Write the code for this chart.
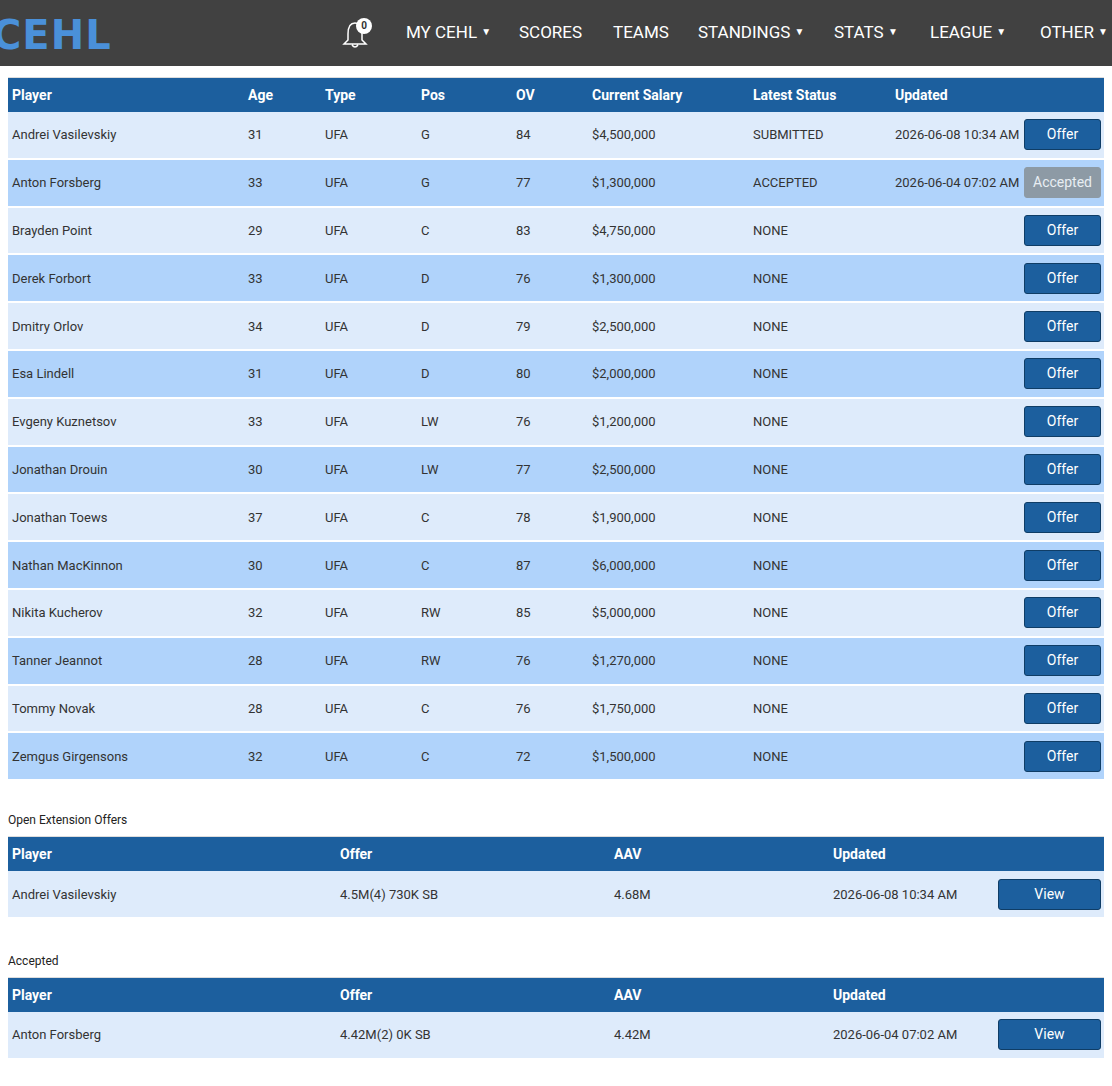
<!DOCTYPE html>
<html>
<head>
<meta charset="utf-8">
<script src="https://cdn.jsdelivr.net/npm/chart.js"></script>
<style>
body { margin:0; font-family: Roboto, sans-serif; background:#fff; color:#333; width:1112px; overflow:hidden; }
.nav { height:66px; background:#414141; position:relative; color:#fff; margin-bottom:11px; }
.logo { position:absolute; left:-8px; top:12px; font-family:"DejaVu Sans"; font-weight:bold; font-size:40px; color:#4a90d9; letter-spacing:1px; }
.menu { position:absolute; top:22px; left:406px; font-size:17px; white-space:nowrap; }
.menu span { position:absolute; }
.menu small { font-size:10px; vertical-align:3px; }
.bell { position:absolute; left:342px; top:20px; }
.badge { position:absolute; left:356px; top:18px; width:16px; height:16px; border-radius:8px; background:#fff; color:#333; font-size:10px; font-weight:bold; text-align:center; line-height:16px; }
table { border-collapse:collapse; table-layout:fixed; margin-left:8px; width:1096px; font-size:13px; }
th { background:#1c5f9e; color:#fff; text-align:left; height:34px; padding:0 0 0 4px; font-size:14px; border-top:1px solid #ddd; }
td { height:45.8px; padding:0 0 0 4px; border-bottom:2px solid #fff; }
tr.a td { background:#deebfb; }
tr.b td { background:#b0d3fb; }
td.btn { text-align:right; padding-right:3px; }
.b1 { display:inline-block; background:#1c5f9e; color:#fff; border:1px solid #0f3d66; border-radius:3px; width:77px; height:31px; line-height:29px; text-align:center; font-size:14px; box-sizing:border-box; }
.b1.acc { background:#8d9aa5; border-color:#8d9aa5; color:#e8eef3; }
.b1.v { width:103px; }
.lbl { font-size:12px; margin:32px 0 9px 8px; color:#222; }
</style>
</head>
<body>
<div class="nav">
  <div class="logo">CEHL</div>
  <svg class="bell" width="26" height="28" viewBox="0 0 26 28"><path d="M13 3 C7 3 6 9 6 14 L6 20 L2 24 L24 24 L20 20 L20 14 C20 9 19 3 13 3 Z M10 25 Q13 29 16 25" fill="none" stroke="#fff" stroke-width="1.5"/></svg>
  <div class="badge">0</div>
  <div class="menu" id="menu"></div>
</div>
<table id="t1"></table>
<div class="lbl">Open Extension Offers</div>
<table id="t2"></table>
<div class="lbl" style="margin-top:35px">Accepted</div>
<table id="t3"></table>
<script>
const menuItems = ['MY CEHL', 'SCORES', 'TEAMS', 'STANDINGS', 'STATS', 'LEAGUE', 'OTHER'];
const menuCaret = [true, false, false, true, true, true, true];
const menuX = [0, 113, 207, 292, 428, 524, 634];

const cols1 = ['Player', 'Age', 'Type', 'Pos', 'OV', 'Current Salary', 'Latest Status', 'Updated', ''];
const widths1 = [236, 77, 96, 95, 76, 161, 142, 129, 84];
const players = ['Andrei Vasilevskiy', 'Anton Forsberg', 'Brayden Point', 'Derek Forbort', 'Dmitry Orlov', 'Esa Lindell', 'Evgeny Kuznetsov', 'Jonathan Drouin', 'Jonathan Toews', 'Nathan MacKinnon', 'Nikita Kucherov', 'Tanner Jeannot', 'Tommy Novak', 'Zemgus Girgensons'];
const ages = [31, 33, 29, 33, 34, 31, 33, 30, 37, 30, 32, 28, 28, 32];
const types = ['UFA', 'UFA', 'UFA', 'UFA', 'UFA', 'UFA', 'UFA', 'UFA', 'UFA', 'UFA', 'UFA', 'UFA', 'UFA', 'UFA'];
const positions = ['G', 'G', 'C', 'D', 'D', 'D', 'LW', 'LW', 'C', 'C', 'RW', 'RW', 'C', 'C'];
const overalls = [84, 77, 83, 76, 79, 80, 76, 77, 78, 87, 85, 76, 76, 72];
const salaries = ['$4,500,000', '$1,300,000', '$4,750,000', '$1,300,000', '$2,500,000', '$2,000,000', '$1,200,000', '$2,500,000', '$1,900,000', '$6,000,000', '$5,000,000', '$1,270,000', '$1,750,000', '$1,500,000'];
const statuses = ['SUBMITTED', 'ACCEPTED', 'NONE', 'NONE', 'NONE', 'NONE', 'NONE', 'NONE', 'NONE', 'NONE', 'NONE', 'NONE', 'NONE', 'NONE'];
const updated = ['2026-06-08 10:34 AM', '2026-06-04 07:02 AM', '', '', '', '', '', '', '', '', '', '', '', ''];

const cols2 = ['Player', 'Offer', 'AAV', 'Updated', ''];
const widths2 = [328, 274, 219, 161, 114];
const extPlayers = ['Andrei Vasilevskiy'];
const extOffers = ['4.5M(4) 730K SB'];
const extAav = ['4.68M'];
const extUpdated = ['2026-06-08 10:34 AM'];

const accPlayers = ['Anton Forsberg'];
const accOffers = ['4.42M(2) 0K SB'];
const accAav = ['4.42M'];
const accUpdated = ['2026-06-04 07:02 AM'];

document.getElementById('menu').innerHTML = menuItems.map((m, i) =>
    '<span style="left:' + menuX[i] + 'px">' + m + (menuCaret[i] ? ' <small>▼</small>' : '') + '</span>').join('');

function build(id, cols, widths, rows) {
    let h = '<colgroup>' + widths.map(w => '<col style="width:' + w + 'px">').join('') + '</colgroup>';
    h += '<tr>' + cols.map(c => '<th>' + c + '</th>').join('') + '</tr>';
    rows.forEach((r, i) => {
        h += '<tr class="' + (i % 2 ? 'b' : 'a') + '">';
        r.forEach((c, j) => { h += (j == r.length - 1 ? '<td class="btn">' : '<td>') + c + '</td>'; });
        h += '</tr>';
    });
    document.getElementById(id).innerHTML = h;
}

build('t1', cols1, widths1, players.map((p, i) => [p, ages[i], types[i], positions[i], overalls[i], salaries[i], statuses[i], updated[i],
    statuses[i] == 'ACCEPTED' ? '<span class="b1 acc">Accepted</span>' : '<span class="b1">Offer</span>']));
build('t2', cols2, widths2, extPlayers.map((p, i) => [p, extOffers[i], extAav[i], extUpdated[i], '<span class="b1 v">View</span>']));
build('t3', cols2, widths2, accPlayers.map((p, i) => [p, accOffers[i], accAav[i], accUpdated[i], '<span class="b1 v">View</span>']));
</script>
</body>
</html>
